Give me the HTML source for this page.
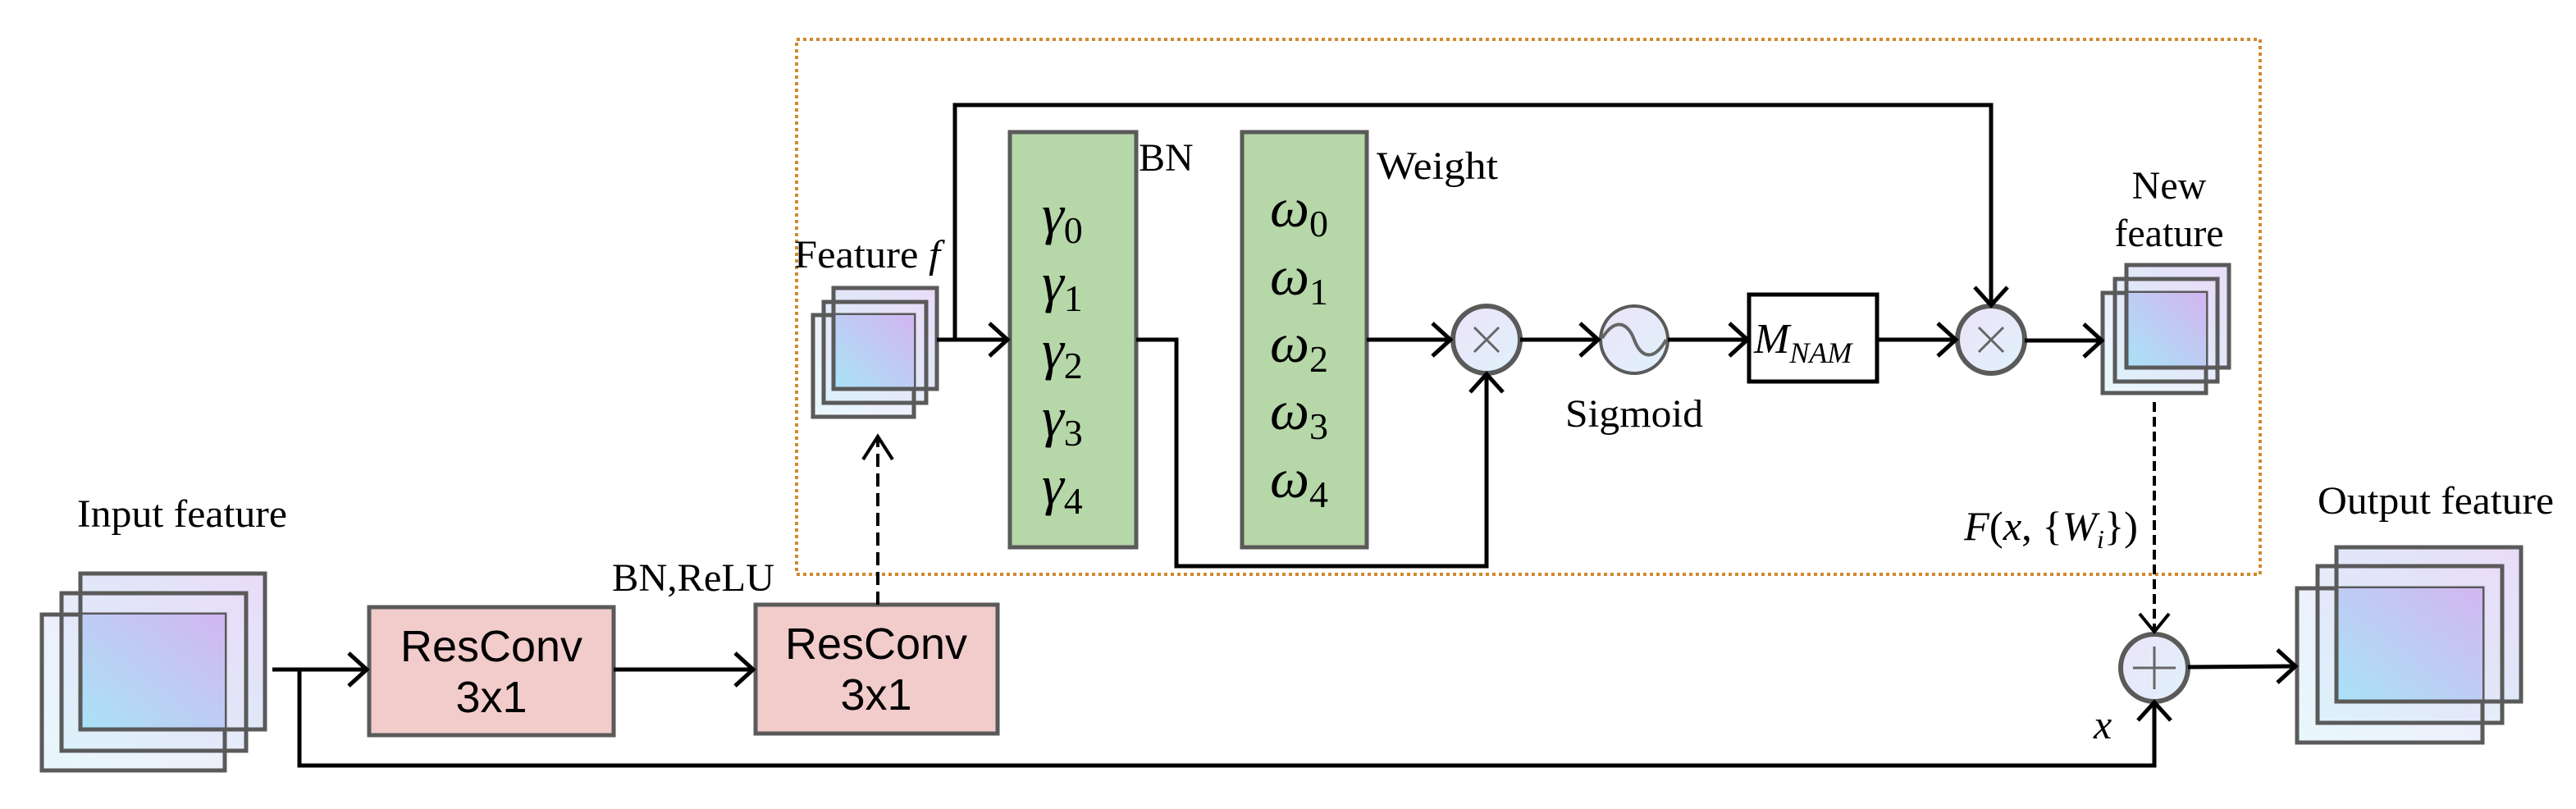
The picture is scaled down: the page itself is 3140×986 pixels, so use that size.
<!DOCTYPE html>
<html><head><meta charset="utf-8"><style>
html,body{margin:0;padding:0;background:#fff;}
svg{display:block;}
text{font-family:"Liberation Serif",serif;fill:#000;}
.s{font-family:"Liberation Sans",sans-serif;}
</style></head><body>
<svg width="3140" height="986" viewBox="0 0 3140 986" xmlns="http://www.w3.org/2000/svg">
<defs>
<linearGradient id="g1" x1="0" y1="1" x2="1" y2="0">
<stop offset="0" stop-color="#a9e3f7"/><stop offset="1" stop-color="#d2b6f0"/></linearGradient>
<linearGradient id="g2" x1="0" y1="1" x2="1" y2="0">
<stop offset="0" stop-color="#d8f2fb"/><stop offset="1" stop-color="#e9dcf7"/></linearGradient>
<linearGradient id="gc" x1="0" y1="0" x2="1" y2="1">
<stop offset="0" stop-color="#ece4f8"/><stop offset="1" stop-color="#dff1fb"/></linearGradient>
</defs>
<g fill="none" stroke="#000" stroke-width="5">
<rect x="971" y="48" width="1784" height="652" stroke="#d08a30" stroke-width="4" stroke-dasharray="4,4"/>
</g>
<g stroke="#5a5a5a" stroke-width="5">
<rect x="98" y="699" width="225" height="190" fill="url(#g2)"/>
<rect x="75" y="723" width="225" height="192" fill="url(#g2)" fill-opacity="0.8"/>
<rect x="51" y="749" width="223" height="190" fill="url(#g2)" fill-opacity="0.6"/>
<rect x="98" y="749" width="176" height="140" fill="url(#g1)" stroke="none"/>
<rect x="98" y="699" width="225" height="190" fill="none"/>
<rect x="75" y="723" width="225" height="192" fill="none"/>
<rect x="1016" y="351" width="126" height="123" fill="url(#g2)"/>
<rect x="1004" y="368" width="125" height="123" fill="url(#g2)" fill-opacity="0.8"/>
<rect x="991" y="384" width="123" height="124" fill="url(#g2)" fill-opacity="0.6"/>
<rect x="1016" y="384" width="98" height="90" fill="url(#g1)" stroke="none"/>
<rect x="1016" y="351" width="126" height="123" fill="none"/>
<rect x="1004" y="368" width="125" height="123" fill="none"/>
<rect x="2592" y="323" width="125" height="125" fill="url(#g2)"/>
<rect x="2578" y="340" width="125" height="125" fill="url(#g2)" fill-opacity="0.8"/>
<rect x="2563" y="357" width="126" height="122" fill="url(#g2)" fill-opacity="0.6"/>
<rect x="2592" y="357" width="97" height="91" fill="url(#g1)" stroke="none"/>
<rect x="2592" y="323" width="125" height="125" fill="none"/>
<rect x="2578" y="340" width="125" height="125" fill="none"/>
<rect x="2848" y="667" width="225" height="188" fill="url(#g2)"/>
<rect x="2825" y="690" width="225" height="191" fill="url(#g2)" fill-opacity="0.8"/>
<rect x="2800" y="717" width="226" height="188" fill="url(#g2)" fill-opacity="0.6"/>
<rect x="2848" y="717" width="178" height="138" fill="url(#g1)" stroke="none"/>
<rect x="2848" y="667" width="225" height="188" fill="none"/>
<rect x="2825" y="690" width="225" height="191" fill="none"/>
<rect x="450" y="740" width="298" height="156" fill="#f2cbcb"/>
<rect x="921" y="737" width="295" height="157" fill="#f2cbcb"/>
<rect x="1231" y="161" width="154" height="506" fill="#b6d7a8"/>
<rect x="1514" y="161" width="152" height="506" fill="#b6d7a8"/>
<circle cx="1812" cy="414" r="41" fill="url(#gc)" stroke-width="6"/>
<circle cx="1992" cy="414" r="41" fill="url(#gc)" stroke-width="4"/>
<circle cx="2427" cy="414" r="41" fill="url(#gc)" stroke-width="6"/>
<circle cx="2626" cy="814" r="41" fill="url(#gc)" stroke-width="6"/>
</g>
<g stroke="#666" stroke-width="3" fill="none">
<path d="M1797 399 L1827 429 M1827 399 L1797 429"/>
<path d="M2412 399 L2442 429 M2442 399 L2412 429"/>
<path d="M2600 814 L2652 814 M2626 788 L2626 840"/>
<path d="M1953 412 C1970 385 1985 395 1992 414 C2000 435 2015 442 2031 414" stroke-width="4"/>
</g>
<g fill="none" stroke="#000" stroke-width="5">
<rect x="2132" y="359" width="156" height="106" stroke-width="5" fill="#fff"/>
<path d="M332 816 L447 816"/><polyline points="425,796 447,816 425,836"/>
<path d="M365 816 L365 933 L2626 933 L2626 858"/><polyline points="2606,878 2626,856 2646,878"/>
<path d="M748 816 L918 816"/><polyline points="896,796 918,816 896,836"/>
<path d="M1070 737 L1070 536" stroke-width="4" stroke-dasharray="16,8"/><polyline points="1052,560 1070,532 1088,560" stroke-width="4"/>
<path d="M1142 414 L1228 414"/><polyline points="1206,394 1228,414 1206,434"/>
<path d="M1164 414 L1164 128 L2427 128 L2427 370"/><polyline points="2407,350 2427,372 2447,350"/>
<path d="M1385 414 L1434 414 L1434 690 L1812 690 L1812 458"/><polyline points="1792,478 1812,456 1832,478"/>
<path d="M1666 414 L1768 414"/><polyline points="1746,394 1768,414 1746,434"/>
<path d="M1853 414 L1948 414"/><polyline points="1926,394 1948,414 1926,434"/>
<path d="M2033 414 L2130 414"/><polyline points="2108,394 2130,414 2108,434"/>
<path d="M2288 414 L2384 414"/><polyline points="2362,394 2384,414 2362,434"/>
<path d="M2468 415 L2562 415"/><polyline points="2540,395 2562,415 2540,435"/>
<path d="M2626 490 L2626 768" stroke-width="4" stroke-dasharray="12,6"/><polyline points="2608,748 2626,770 2644,748" stroke-width="4"/>
<path d="M2667 813 L2798 812"/><polyline points="2776,792 2798,812 2776,832"/>
</g>
<text x="222" y="642" font-size="48" text-anchor="middle" textLength="256" lengthAdjust="spacingAndGlyphs">Input feature</text>
<text x="845" y="720" font-size="48" text-anchor="middle" textLength="198" lengthAdjust="spacingAndGlyphs">BN,ReLU</text>
<text class="s" x="599" y="806" font-size="54" text-anchor="middle" textLength="222" lengthAdjust="spacingAndGlyphs">ResConv</text>
<text class="s" x="599" y="868" font-size="54" text-anchor="middle">3x1</text>
<text class="s" x="1068" y="803" font-size="54" text-anchor="middle" textLength="222" lengthAdjust="spacingAndGlyphs">ResConv</text>
<text class="s" x="1068" y="865" font-size="54" text-anchor="middle">3x1</text>
<text x="968" y="326" font-size="48" textLength="178" lengthAdjust="spacingAndGlyphs">Feature <tspan font-style="italic">f</tspan></text>
<text x="1388" y="208" font-size="48">BN</text>
<text x="1678" y="218" font-size="48" textLength="148" lengthAdjust="spacingAndGlyphs">Weight</text>
<g font-size="68" font-style="italic">
<text x="1270" y="284">γ<tspan font-size="46" font-style="normal" dy="12">0</tspan></text>
<text x="1270" y="367">γ<tspan font-size="46" font-style="normal" dy="12">1</tspan></text>
<text x="1270" y="449">γ<tspan font-size="46" font-style="normal" dy="12">2</tspan></text>
<text x="1270" y="531">γ<tspan font-size="46" font-style="normal" dy="12">3</tspan></text>
<text x="1270" y="614">γ<tspan font-size="46" font-style="normal" dy="12">4</tspan></text>
<text x="1548" y="276">ω<tspan font-size="46" font-style="normal" dy="12">0</tspan></text>
<text x="1548" y="359">ω<tspan font-size="46" font-style="normal" dy="12">1</tspan></text>
<text x="1548" y="441">ω<tspan font-size="46" font-style="normal" dy="12">2</tspan></text>
<text x="1548" y="523">ω<tspan font-size="46" font-style="normal" dy="12">3</tspan></text>
<text x="1548" y="606">ω<tspan font-size="46" font-style="normal" dy="12">4</tspan></text>
</g>
<text x="1992" y="520" font-size="48" text-anchor="middle" textLength="168" lengthAdjust="spacingAndGlyphs">Sigmoid</text>
<text x="2138" y="430" font-size="52" font-style="italic">M<tspan font-size="36" dy="12">NAM</tspan></text>
<text x="2644" y="242" font-size="48" text-anchor="middle">New</text>
<text x="2644" y="300" font-size="48" text-anchor="middle">feature</text>
<text x="2394" y="658" font-size="50" font-style="italic" textLength="212" lengthAdjust="spacingAndGlyphs">F<tspan font-style="normal">(</tspan>x<tspan font-style="normal">, {</tspan>W<tspan font-size="32" dy="10">i</tspan><tspan font-style="normal" dy="-10">})</tspan></text>
<text x="2552" y="900" font-size="50" font-style="italic">x</text>
<text x="2969" y="626" font-size="48" text-anchor="middle" textLength="288" lengthAdjust="spacingAndGlyphs">Output feature</text>
</svg>
</body></html>
